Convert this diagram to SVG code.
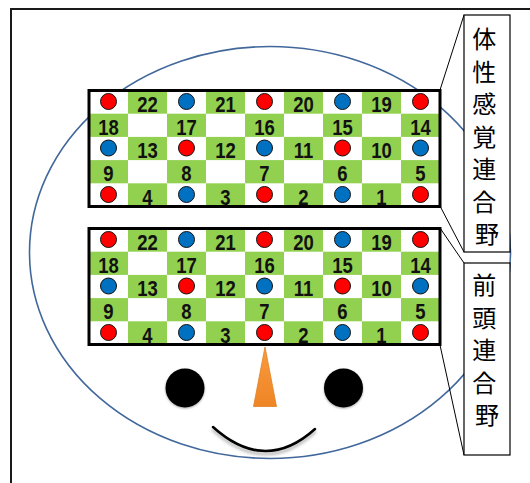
<svg xmlns="http://www.w3.org/2000/svg" width="530" height="483" viewBox="0 0 530 483">
  <style>
    .frame { fill: none; stroke: #1a1a1a; stroke-width: 2; }
    .head { fill: none; stroke: #41679b; stroke-width: 1.6; }
    .cell { fill: #92d050; }
    .board { fill: none; stroke: #000; stroke-width: 3; }
    .red { fill: #ff0000; stroke: #111; stroke-width: 1; }
    .blue { fill: #0070c0; stroke: #111; stroke-width: 1; }
    .num { font-family: "Liberation Sans", Arial, sans-serif; font-weight: bold; font-size: 21.5px; fill: #111; text-anchor: middle; }
    .label { fill: #fff; stroke: #000; stroke-width: 1.2; }
    .jp { font-family: "Noto Sans CJK JP", "Noto Sans CJK SC", sans-serif; font-size: 24px; fill: #000; text-anchor: middle; dominant-baseline: central; }
    .lead { stroke: #000; stroke-width: 1; fill: none; }
  </style>
  <defs>
    <filter id="soft" x="-30%" y="-30%" width="160%" height="160%">
      <feGaussianBlur in="SourceAlpha" stdDeviation="1.2" result="b"/>
      <feOffset in="b" dx="0" dy="1" result="o"/>
      <feFlood flood-color="#000" flood-opacity="0.35"/>
      <feComposite in2="o" operator="in" result="s"/>
      <feMerge><feMergeNode in="s"/><feMergeNode in="SourceGraphic"/></feMerge>
    </filter>
    <filter id="smileShadow" x="-20%" y="-50%" width="140%" height="200%">
      <feGaussianBlur in="SourceAlpha" stdDeviation="1.5" result="b"/>
      <feOffset in="b" dx="0" dy="3" result="o"/>
      <feFlood flood-color="#000" flood-opacity="0.3"/>
      <feComposite in2="o" operator="in" result="s"/>
      <feMerge><feMergeNode in="s"/><feMergeNode in="SourceGraphic"/></feMerge>
    </filter>
    <linearGradient id="noseFill" x1="0" y1="0" x2="0" y2="1">
      <stop offset="0" stop-color="#fa9a3e"/>
      <stop offset="1" stop-color="#ee8526"/>
    </linearGradient>
  </defs>

  <!-- page frame -->
  <path class="frame" d="M11,483 V9 H530"/>

  <!-- head outline -->
  <g id="head">
    <ellipse class="head" cx="270" cy="252.5" rx="240.5" ry="206"/>
  </g>

  <!-- leader lines from the labels to the boards -->
  <g id="connectors">
    <line class="lead" x1="464" y1="15" x2="440" y2="90"/>
    <line class="lead" x1="464" y1="252" x2="440" y2="206"/>
    <line class="lead" x1="464" y1="263" x2="440" y2="228"/>
    <line class="lead" x1="464" y1="455" x2="440" y2="345"/>
  </g>

  <!-- upper electrode board -->
  <g id="board-upper">
    <rect x="89" y="90.5" width="351" height="116" fill="#fff"/>
    <rect class="cell" x="128" y="90.5" width="39" height="23.2"/>
    <rect class="cell" x="206" y="90.5" width="39" height="23.2"/>
    <rect class="cell" x="284" y="90.5" width="39" height="23.2"/>
    <rect class="cell" x="362" y="90.5" width="39" height="23.2"/>
    <rect class="cell" x="89" y="113.7" width="39" height="23.2"/>
    <rect class="cell" x="167" y="113.7" width="39" height="23.2"/>
    <rect class="cell" x="245" y="113.7" width="39" height="23.2"/>
    <rect class="cell" x="323" y="113.7" width="39" height="23.2"/>
    <rect class="cell" x="401" y="113.7" width="39" height="23.2"/>
    <rect class="cell" x="128" y="136.9" width="39" height="23.2"/>
    <rect class="cell" x="206" y="136.9" width="39" height="23.2"/>
    <rect class="cell" x="284" y="136.9" width="39" height="23.2"/>
    <rect class="cell" x="362" y="136.9" width="39" height="23.2"/>
    <rect class="cell" x="89" y="160.1" width="39" height="23.2"/>
    <rect class="cell" x="167" y="160.1" width="39" height="23.2"/>
    <rect class="cell" x="245" y="160.1" width="39" height="23.2"/>
    <rect class="cell" x="323" y="160.1" width="39" height="23.2"/>
    <rect class="cell" x="401" y="160.1" width="39" height="23.2"/>
    <rect class="cell" x="128" y="183.3" width="39" height="23.2"/>
    <rect class="cell" x="206" y="183.3" width="39" height="23.2"/>
    <rect class="cell" x="284" y="183.3" width="39" height="23.2"/>
    <rect class="cell" x="362" y="183.3" width="39" height="23.2"/>

    <circle class="red" cx="108.5" cy="101.5" r="8"/>
    <circle class="blue" cx="186.5" cy="101.5" r="8"/>
    <circle class="red" cx="264.5" cy="101.5" r="8"/>
    <circle class="blue" cx="342.5" cy="101.5" r="8"/>
    <circle class="red" cx="420.5" cy="101.5" r="8"/>
    <circle class="blue" cx="108.5" cy="148" r="8"/>
    <circle class="red" cx="186.5" cy="148" r="8"/>
    <circle class="blue" cx="264.5" cy="148" r="8"/>
    <circle class="red" cx="342.5" cy="148" r="8"/>
    <circle class="blue" cx="420.5" cy="148" r="8"/>
    <circle class="red" cx="108.5" cy="194.5" r="8"/>
    <circle class="blue" cx="186.5" cy="194.5" r="8"/>
    <circle class="red" cx="264.5" cy="194.5" r="8"/>
    <circle class="blue" cx="342.5" cy="194.5" r="8"/>
    <circle class="red" cx="420.5" cy="194.5" r="8"/>

    <text class="num" transform="translate(147.5,111.7) scale(0.86,1)">22</text>
    <text class="num" transform="translate(225.5,111.7) scale(0.86,1)">21</text>
    <text class="num" transform="translate(303.5,111.7) scale(0.86,1)">20</text>
    <text class="num" transform="translate(381.5,111.7) scale(0.86,1)">19</text>
    <text class="num" transform="translate(108.5,135) scale(0.86,1)">18</text>
    <text class="num" transform="translate(186.5,135) scale(0.86,1)">17</text>
    <text class="num" transform="translate(264.5,135) scale(0.86,1)">16</text>
    <text class="num" transform="translate(342.5,135) scale(0.86,1)">15</text>
    <text class="num" transform="translate(420.5,135) scale(0.86,1)">14</text>
    <text class="num" transform="translate(147.5,158) scale(0.86,1)">13</text>
    <text class="num" transform="translate(225.5,158) scale(0.86,1)">12</text>
    <text class="num" transform="translate(303.5,158) scale(0.86,1)">11</text>
    <text class="num" transform="translate(381.5,158) scale(0.86,1)">10</text>
    <text class="num" transform="translate(108.5,181.3) scale(0.86,1)">9</text>
    <text class="num" transform="translate(186.5,181.3) scale(0.86,1)">8</text>
    <text class="num" transform="translate(264.5,181.3) scale(0.86,1)">7</text>
    <text class="num" transform="translate(342.5,181.3) scale(0.86,1)">6</text>
    <text class="num" transform="translate(420.5,181.3) scale(0.86,1)">5</text>
    <text class="num" transform="translate(147.5,204.5) scale(0.86,1)">4</text>
    <text class="num" transform="translate(225.5,204.5) scale(0.86,1)">3</text>
    <text class="num" transform="translate(303.5,204.5) scale(0.86,1)">2</text>
    <text class="num" transform="translate(381.5,204.5) scale(0.86,1)">1</text>

    <rect class="board" x="89" y="90.5" width="351" height="116"/>
  </g>

  <!-- lower electrode board -->
  <g id="board-lower">
    <rect x="89" y="228.5" width="351" height="116" fill="#fff"/>
    <rect class="cell" x="128" y="228.5" width="39" height="23.2"/>
    <rect class="cell" x="206" y="228.5" width="39" height="23.2"/>
    <rect class="cell" x="284" y="228.5" width="39" height="23.2"/>
    <rect class="cell" x="362" y="228.5" width="39" height="23.2"/>
    <rect class="cell" x="89" y="251.7" width="39" height="23.2"/>
    <rect class="cell" x="167" y="251.7" width="39" height="23.2"/>
    <rect class="cell" x="245" y="251.7" width="39" height="23.2"/>
    <rect class="cell" x="323" y="251.7" width="39" height="23.2"/>
    <rect class="cell" x="401" y="251.7" width="39" height="23.2"/>
    <rect class="cell" x="128" y="274.9" width="39" height="23.2"/>
    <rect class="cell" x="206" y="274.9" width="39" height="23.2"/>
    <rect class="cell" x="284" y="274.9" width="39" height="23.2"/>
    <rect class="cell" x="362" y="274.9" width="39" height="23.2"/>
    <rect class="cell" x="89" y="298.1" width="39" height="23.2"/>
    <rect class="cell" x="167" y="298.1" width="39" height="23.2"/>
    <rect class="cell" x="245" y="298.1" width="39" height="23.2"/>
    <rect class="cell" x="323" y="298.1" width="39" height="23.2"/>
    <rect class="cell" x="401" y="298.1" width="39" height="23.2"/>
    <rect class="cell" x="128" y="321.3" width="39" height="23.2"/>
    <rect class="cell" x="206" y="321.3" width="39" height="23.2"/>
    <rect class="cell" x="284" y="321.3" width="39" height="23.2"/>
    <rect class="cell" x="362" y="321.3" width="39" height="23.2"/>

    <circle class="red" cx="108.5" cy="239.5" r="8"/>
    <circle class="blue" cx="186.5" cy="239.5" r="8"/>
    <circle class="red" cx="264.5" cy="239.5" r="8"/>
    <circle class="blue" cx="342.5" cy="239.5" r="8"/>
    <circle class="red" cx="420.5" cy="239.5" r="8"/>
    <circle class="blue" cx="108.5" cy="286" r="8"/>
    <circle class="red" cx="186.5" cy="286" r="8"/>
    <circle class="blue" cx="264.5" cy="286" r="8"/>
    <circle class="red" cx="342.5" cy="286" r="8"/>
    <circle class="blue" cx="420.5" cy="286" r="8"/>
    <circle class="red" cx="108.5" cy="332.5" r="8"/>
    <circle class="blue" cx="186.5" cy="332.5" r="8"/>
    <circle class="red" cx="264.5" cy="332.5" r="8"/>
    <circle class="blue" cx="342.5" cy="332.5" r="8"/>
    <circle class="red" cx="420.5" cy="332.5" r="8"/>

    <text class="num" transform="translate(147.5,249.7) scale(0.86,1)">22</text>
    <text class="num" transform="translate(225.5,249.7) scale(0.86,1)">21</text>
    <text class="num" transform="translate(303.5,249.7) scale(0.86,1)">20</text>
    <text class="num" transform="translate(381.5,249.7) scale(0.86,1)">19</text>
    <text class="num" transform="translate(108.5,273) scale(0.86,1)">18</text>
    <text class="num" transform="translate(186.5,273) scale(0.86,1)">17</text>
    <text class="num" transform="translate(264.5,273) scale(0.86,1)">16</text>
    <text class="num" transform="translate(342.5,273) scale(0.86,1)">15</text>
    <text class="num" transform="translate(420.5,273) scale(0.86,1)">14</text>
    <text class="num" transform="translate(147.5,296) scale(0.86,1)">13</text>
    <text class="num" transform="translate(225.5,296) scale(0.86,1)">12</text>
    <text class="num" transform="translate(303.5,296) scale(0.86,1)">11</text>
    <text class="num" transform="translate(381.5,296) scale(0.86,1)">10</text>
    <text class="num" transform="translate(108.5,319.3) scale(0.86,1)">9</text>
    <text class="num" transform="translate(186.5,319.3) scale(0.86,1)">8</text>
    <text class="num" transform="translate(264.5,319.3) scale(0.86,1)">7</text>
    <text class="num" transform="translate(342.5,319.3) scale(0.86,1)">6</text>
    <text class="num" transform="translate(420.5,319.3) scale(0.86,1)">5</text>
    <text class="num" transform="translate(147.5,342.5) scale(0.86,1)">4</text>
    <text class="num" transform="translate(225.5,342.5) scale(0.86,1)">3</text>
    <text class="num" transform="translate(303.5,342.5) scale(0.86,1)">2</text>
    <text class="num" transform="translate(381.5,342.5) scale(0.86,1)">1</text>

    <rect class="board" x="89" y="228.5" width="351" height="116"/>
  </g>

  <!-- label: somatosensory association cortex -->
  <g id="label-upper">
    <rect class="label" x="464" y="15" width="46" height="237"/>
    <text class="jp">
      <tspan x="487" y="37">体</tspan>
      <tspan x="487" y="69.5">性</tspan>
      <tspan x="487" y="102">感</tspan>
      <tspan x="487" y="134.5">覚</tspan>
      <tspan x="487" y="167">連</tspan>
      <tspan x="487" y="199.5">合</tspan>
      <tspan x="487" y="232">野</tspan>
    </text>
  </g>

  <!-- label: prefrontal association cortex -->
  <g id="label-lower">
    <rect class="label" x="464" y="263" width="46" height="192"/>
    <text class="jp">
      <tspan x="487" y="283">前</tspan>
      <tspan x="487" y="315.5">頭</tspan>
      <tspan x="487" y="348">連</tspan>
      <tspan x="487" y="380.5">合</tspan>
      <tspan x="487" y="413">野</tspan>
    </text>
  </g>

  <!-- face -->
  <g id="eye-left">
    <circle cx="185" cy="388" r="19.5" fill="#050505" filter="url(#soft)"/>
  </g>
  <g id="eye-right">
    <circle cx="343.5" cy="388" r="19.5" fill="#050505" filter="url(#soft)"/>
  </g>
  <g id="nose">
    <polygon points="265,347 253.5,406.5 276.5,406.5" fill="url(#noseFill)" stroke="#e2801f" stroke-width="0.8"/>
  </g>
  <g id="mouth">
    <path d="M213,427 Q265,474 315,429" fill="none" stroke="#000" stroke-width="2.5" stroke-linecap="round" filter="url(#smileShadow)"/>
  </g>
</svg>
